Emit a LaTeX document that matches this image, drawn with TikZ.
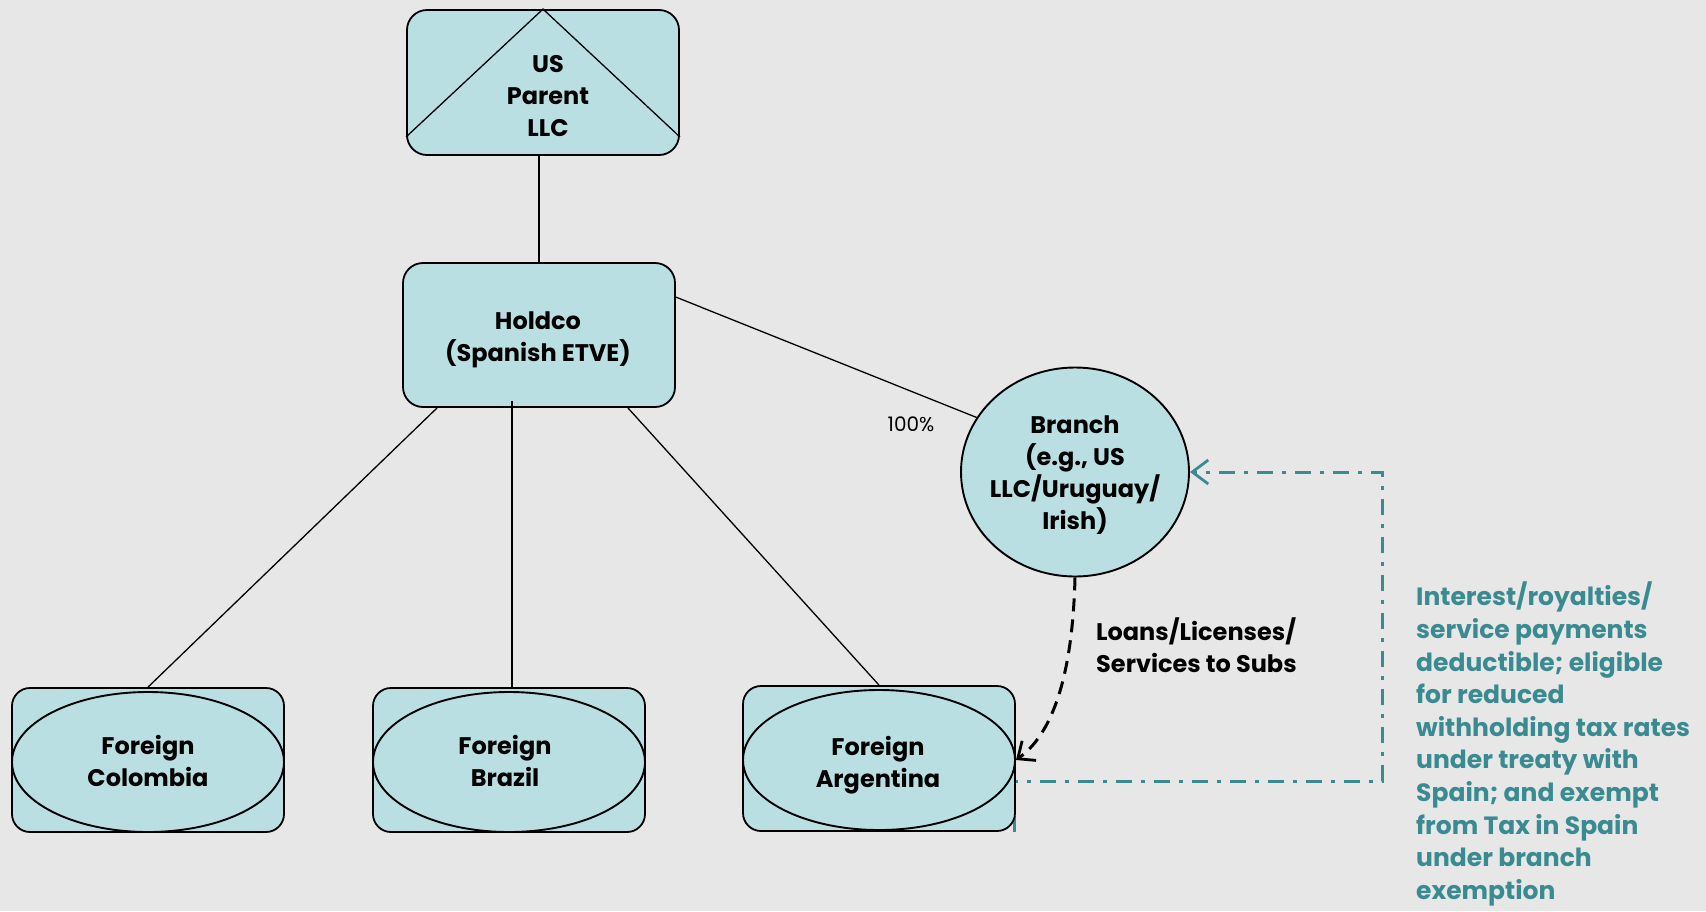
\documentclass[tikz,border=0pt]{standalone}
\usepackage{fontspec}
\setmainfont{Poppins}
\usetikzlibrary{shapes.geometric,arrows.meta,calc}
\definecolor{bgc}{RGB}{231,231,231}
\definecolor{boxfill}{RGB}{186,223,227}
\definecolor{tealc}{RGB}{58,139,145}
\pgfdeclarelayer{bg}\pgfsetlayers{bg,main}
\begin{document}
\begin{tikzpicture}[x=1pt,y=-1pt,
  box/.style={draw=black, fill=boxfill, line width=1.8pt, rounded corners=20pt, inner sep=0pt, minimum width=272pt, minimum height=144pt},
  oval/.style={ellipse, draw=black, fill=boxfill, line width=1.9pt, inner sep=0pt},
  lbl/.style={font=\fontsize{24}{32}\selectfont\bfseries, align=center, text=black, inner sep=0pt},
  conn/.style={line width=1.3pt, draw=black},
  flowarrow/.style={draw=black, line width=3pt, dash pattern=on 13pt off 8pt, -{Straight Barb[length=14pt,width=24pt,line width=2.8pt]}},
  tealline/.style={draw=tealc, line width=3pt, dash pattern=on 16pt off 9pt on 4pt off 9pt},
  tealarrow/.style={-{Straight Barb[length=16pt,width=24pt,line width=2.8pt]}}
]
\useasboundingbox (0,0) rectangle (1706,911);
\begin{pgfonlayer}{bg}
\fill[bgc] (0,0) rectangle (1706,911);
\end{pgfonlayer}

% US Parent
\node[box, minimum height=145pt] (us) at (543,82.5) {};
\draw[conn] ([yshift=19pt]us.south west) -- (us.north) -- ([yshift=19pt]us.south east);
\node[lbl] (ust) at (548,96) {US\\Parent\\LLC};

% Holdco
\node[box] (hold) at (539,335) {};
\node[lbl] (holdt) at (538,340) {Holdco\\(Spanish ETVE)};

% Branch
\node[oval, minimum width=228pt, minimum height=209pt] (br) at (1075,472) {};
\node[lbl] (brt) at (1075,475) {Branch\\(e.g., US\\LLC/Uruguay/\\Irish)};

% Subsidiaries
\node[box, rounded corners=18pt] (col) at (148,760) {};
\node[oval, minimum width=272pt, minimum height=140pt] (cole) at (148,762) {};
\node[lbl] (colt) at (148,761) {Foreign\\Colombia};

\node[box, rounded corners=18pt] (bra) at (509,760) {};
\node[oval, minimum width=272pt, minimum height=140pt] (brae) at (509,762) {};
\node[lbl] (brat) at (505,761) {Foreign\\Brazil};

\node[box, rounded corners=18pt, minimum height=145pt] (arg) at (879,758.5) {};
\node[oval, minimum width=272pt, minimum height=140pt] (arge) at (879,760) {};
\node[lbl] (argt) at (878,765) {Foreign\\Argentina};

% Connectors
\draw[conn] ([xshift=-4pt]us.south) -- (hold.north);
\draw[conn] ([yshift=-35pt]hold.north east) -- (br.151);
\draw[conn] ([xshift=35pt]hold.south west) -- (col.north);
\draw[conn] ([xshift=-27pt,yshift=7pt]hold.south) -- ([xshift=3pt]bra.north);
\draw[conn] ([xshift=-48pt]hold.south east) -- (arg.north);

\node[font=\fontsize{20}{24}\selectfont, inner sep=0pt] (pct) at (911,424) {100\%};

% Flow arrow
\draw[flowarrow] (br.south) .. controls (1073,660) and (1058,730) .. (arge.east);
\node[lbl, align=left, anchor=west] (loans) at (1096,645) {Loans/Licenses/\\Services to Subs};

% Teal return path
\coordinate (c1) at (1382,781);
\begin{pgfonlayer}{bg}
\draw[tealline, tealarrow] ([xshift=-1pt]arg.south east) |- (c1) |- (br.east);
\end{pgfonlayer}

\node[font=\fontsize{25}{32.6}\selectfont\bfseries, text=tealc, align=left, anchor=north west, inner sep=0pt] (note) at (1416,582) {Interest/royalties/\\service payments\\deductible; eligible\\for reduced\\withholding tax rates\\under treaty with\\Spain; and exempt\\from Tax in Spain\\under branch\\exemption};
\end{tikzpicture}
\end{document}
